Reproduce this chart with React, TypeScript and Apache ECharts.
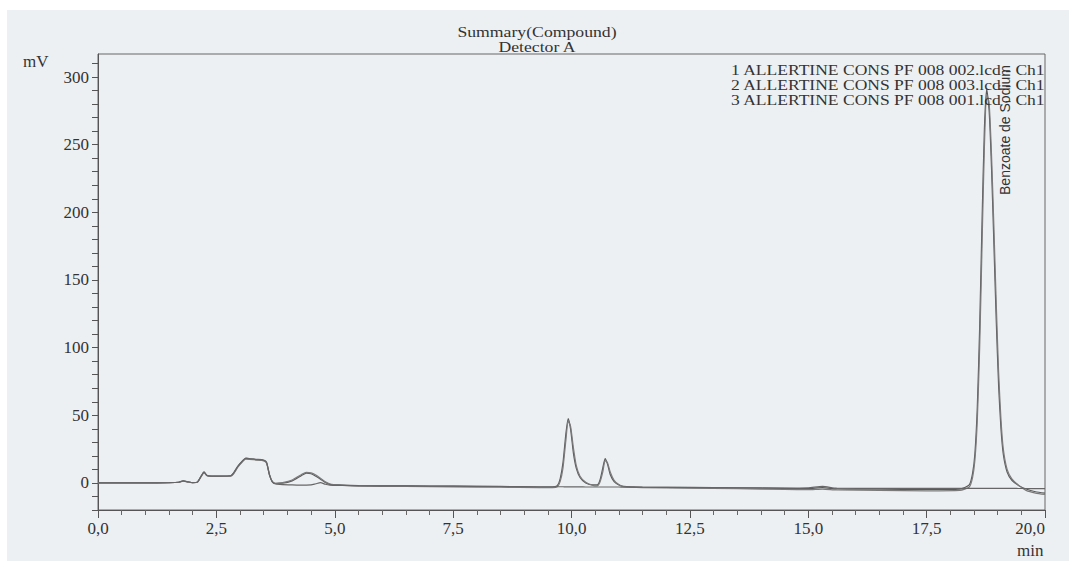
import React, { useEffect, useRef } from "react";
import * as echarts from "echarts";

// retention time (min)
const timeMin = [
  0, 0.5, 1.0, 1.5, 1.7, 1.8, 1.9, 2.0, 2.1, 2.18,
  2.24, 2.3, 2.4, 2.6, 2.8, 2.86, 2.95, 3.05, 3.12, 3.2,
  3.35, 3.5, 3.56, 3.62, 3.68, 3.75, 3.9, 4.1, 4.3, 4.4,
  4.5, 4.6, 4.7, 4.8, 4.9, 5.1, 5.5, 6.5, 7.5, 8.5,
  9.3, 9.6, 9.7, 9.76, 9.82, 9.88, 9.93, 9.98, 10.04, 10.1,
  10.18, 10.3, 10.45, 10.54, 10.6, 10.66, 10.71, 10.76, 10.82, 10.9,
  11.0, 11.1, 11.5, 12.5, 13.5, 14.5, 15.0, 15.3, 15.6, 16.5,
  17.5, 18.2, 18.4, 18.47, 18.52, 18.57, 18.62, 18.67, 18.72, 18.77,
  18.82, 18.87, 18.92, 18.97, 19.02, 19.07, 19.12, 19.2, 19.3, 19.45,
  19.6, 19.8, 20.0,
];

// mV, run "002"
const trace002 = [
  0, 0, 0, 0.2, 0.5, 1.5, 0.8, 0.2, 0.6, 5,
  8, 5.5, 5, 5, 5.2, 7, 12, 16, 18.2, 17.8,
  17.2, 16.6, 15, 6, 1, -0.3, -0.2, 1.5, 5.5, 7.2,
  6.8, 5, 2.8, 0.3, -1, -1.5, -2, -2.2, -2.4, -2.7,
  -3, -3, -2, 3, 15, 36, 47.5, 40, 22, 11,
  4, 0, -1.5, -1.5, 2, 11, 18, 14, 6, 1,
  -1.5, -2.5, -3, -3.3, -3.6, -4, -4.2, -3.5, -4.4, -4.6,
  -4.8, -4.5, -1.5, 7, 22, 56, 115, 193, 262, 291,
  275, 233, 177, 120, 72, 40, 21, 8, 2, -2,
  -4.5, -6.5, -7.5,
];

// mV, run "003"
const trace003 = [
  0, 0, 0, 0.2, 0.5, 1.4, 0.8, 0.2, 0.6, 4.8,
  7.6, 5.3, 4.9, 4.9, 5.0, 6.6, 11.5, 15.6, 17.6, 17.4,
  16.9, 16.3, 14.6, 6.5, 1.2, -0.4, 0.2, 2.2, 6.3, 7.8,
  7.4, 5.8, 3.4, 0.8, -0.8, -1.6, -2.3, -2.6, -2.9, -3.2,
  -3.4, -3.5, -2.8, 1, 11, 31, 45.5, 42, 26, 13,
  5, 0.5, -1.8, -2.2, 0.5, 8, 16.5, 15, 8, 2,
  -1.2, -2.8, -3.5, -3.9, -4.3, -4.8, -5, -4.5, -5.2, -5.5,
  -5.8, -5.5, -3, 4, 17, 46, 100, 175, 248, 287,
  281, 243, 190, 133, 82, 47, 25, 10, 3, -2,
  -5.5, -7.5, -8.5,
];

// mV, run "001"
const trace001 = [
  0, 0, 0, 0.2, 0.5, 1.5, 0.8, 0.2, 0.6, 5.2,
  8.2, 5.6, 5.1, 5.1, 5.3, 7.2, 12.3, 16.3, 18.4, 18,
  17.5, 16.9, 15.4, 6.2, 0.8, -0.8, -1.3, -1.5, -1.6, -1.6,
  -1.5, -0.6, 0.2, -1, -1.6, -1.8, -2, -2.2, -2.4, -2.6,
  -2.8, -2.8, -2.8, -2.8, -2.8, -2.9, -2.9, -2.9, -2.9, -2.9,
  -2.9, -3, -3, -3, -3, -3, -3, -3, -3, -3,
  -3, -3.1, -3.2, -3.4, -3.6, -3.8, -3.6, -2.5, -3.9, -4,
  -4, -4, -4, -4, -4, -4, -4, -4, -4, -4,
  -4, -4, -4, -4, -4, -4, -4, -4, -4, -4.1,
  -4.1, -4.2, -4.2,
];

const seriesNames = [
  "1 ALLERTINE CONS PF 008 002.lcd - Ch1",
  "2 ALLERTINE CONS PF 008 003.lcd - Ch1",
  "3 ALLERTINE CONS PF 008 001.lcd - Ch1",
];
const seriesValues = [trace002, trace003, trace001];
const seriesColors = ["#5a5a5a", "#7a7a7a", "#666666"];

const yLabelValues = [0, 50, 100, 150, 200, 250, 300];
const yTickValues = [-20, -10, 0, 10, 20, 30, 40, 50, 60, 70, 80, 90, 100, 110, 120, 130, 140, 150, 160, 170, 180, 190, 200, 210, 220, 230, 240, 250, 260, 270, 280, 290, 300, 310];

const titleLines = ["Summary(Compound)", "Detector A"];
const peakName = "Benzoate de Sodium";

const SERIF = "'Liberation Serif', 'Times New Roman', serif";

export default function App() {
  const ref = useRef<HTMLDivElement>(null);

  useEffect(() => {
    document.body.style.margin = "0";
    if (!ref.current) return;
    const chart = echarts.init(ref.current, undefined, { renderer: "svg" });

    const titleGraphics = titleLines.map((t, i) => ({
      type: "text",
      x: 537,
      y: 31.5 + i * 15,
      scaleX: 1.18,
      style: {
        text: t,
        font: "15px " + SERIF,
        fill: "#333",
        align: "center",
        verticalAlign: "middle",
      },
    }));

    const legendGraphics = seriesNames.map((t, i) => ({
      type: "text",
      x: 731,
      y: 69.5 + i * 15,
      scaleX: 1.17,
      style: {
        text: t,
        font: "15px " + SERIF,
        fill: "#333",
        align: "left",
        verticalAlign: "middle",
      },
      z: 5,
    }));

    const option: any = {
      animation: false,
      backgroundColor: "transparent",
      textStyle: { fontFamily: SERIF },
      grid: {
        left: 98,
        right: 24,
        top: 54,
        bottom: 51,
        show: true,
        borderColor: "#666",
        borderWidth: 1,
        backgroundColor: "transparent",
      },
      xAxis: {
        type: "value",
        min: 0,
        max: 20,
        interval: 2.5,
        axisLine: { show: true, onZero: false, lineStyle: { color: "#555" } },
        axisTick: { show: true, length: 8, lineStyle: { color: "#555" } },
        minorTick: { show: true, splitNumber: 5, length: 5, lineStyle: { color: "#666" } },
        splitLine: { show: false },
        axisLabel: {
          margin: 10,
          fontFamily: SERIF,
          fontSize: 17,
          color: "#333",
          alignMaxLabel: "right",
          formatter: (v: number) => v.toFixed(1).replace(".", ","),
        },
      },
      yAxis: {
        type: "value",
        min: -20,
        max: 317,
        axisLine: { show: true, onZero: false, lineStyle: { color: "#555" } },
        axisTick: { show: true, length: 6, customValues: yTickValues, lineStyle: { color: "#555" } },
        splitLine: { show: false },
        axisLabel: {
          margin: 9,
          fontFamily: SERIF,
          fontSize: 17,
          color: "#333",
          customValues: yLabelValues,
        },
      },
      graphic: [
        ...titleGraphics,
        ...legendGraphics,
        {
          type: "text",
          left: 23,
          top: 53,
          style: { text: "mV", font: "17px " + SERIF, fill: "#333" },
        },
        {
          type: "text",
          left: 1017,
          top: 542,
          style: { text: "min", font: "17px " + SERIF, fill: "#333" },
        },
        {
          type: "text",
          x: 1005,
          y: 130,
          rotation: Math.PI / 2,
          style: {
            text: peakName,
            font: "14px 'Liberation Sans', Arial, sans-serif",
            fill: "#333",
            align: "center",
            verticalAlign: "middle",
          },
          z: 10,
        },
      ],
      series: seriesNames.map((name, i) => ({
        name,
        type: "line",
        data: timeMin.map((t, j) => [t, seriesValues[i][j]]),
        showSymbol: false,
        symbol: "none",
        smooth: 0.2,
        lineStyle: { color: seriesColors[i], width: 1.2 },
        itemStyle: { color: seriesColors[i] },
        z: 3,
      })),
    };
    chart.setOption(option);
    return () => chart.dispose();
  }, []);

  return (
    <div style={{ position: "relative", width: 1069, height: 561, background: "#ffffff", overflow: "hidden" }}>
      <div style={{ position: "absolute", left: 7, top: 10, width: 1062, height: 551, background: "#edf0f3" }} />
      <div ref={ref} style={{ position: "absolute", left: 0, top: 0, width: 1069, height: 561 }} />
    </div>
  );
}
